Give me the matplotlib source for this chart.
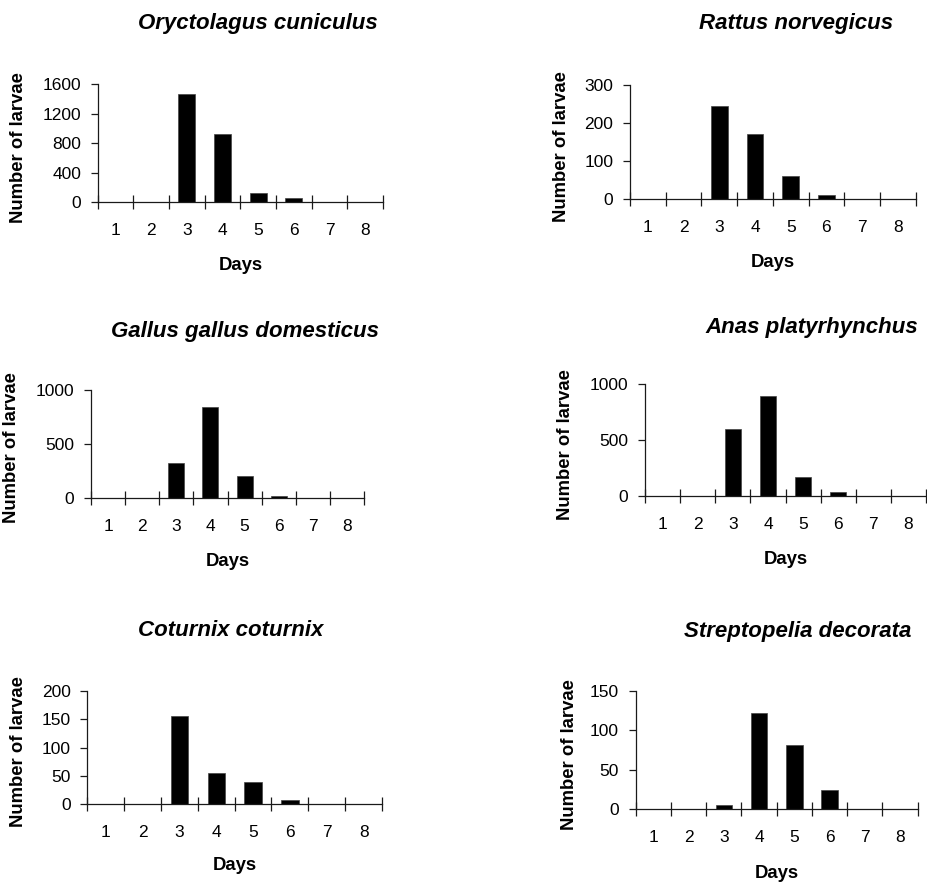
import matplotlib
matplotlib.use("Agg")
import matplotlib.pyplot as plt
import numpy as np

plt.rcParams['font.family'] = ['Liberation Sans', 'DejaVu Sans']

days = [1, 2, 3, 4, 5, 6, 7, 8]
day_labels = ["1", "2", "3", "4", "5", "6", "7", "8"]

species = ["Oryctolagus cuniculus", "Rattus norvegicus",
           "Gallus gallus domesticus", "Anas platyrhynchus",
           "Coturnix coturnix", "Streptopelia decorata"]

oryctolagus = [0, 0, 1470, 930, 130, 60, 0, 0]
rattus = [0, 0, 245, 173, 60, 10, 0, 0]
gallus = [0, 0, 325, 840, 200, 20, 0, 0]
anas = [0, 0, 605, 900, 175, 35, 0, 0]
coturnix = [0, 0, 156, 55, 40, 7, 0, 0]
streptopelia = [0, 0, 5, 122, 82, 25, 0, 0]

series = [oryctolagus, rattus, gallus, anas, coturnix, streptopelia]
yticks = [[0, 400, 800, 1200, 1600], [0, 100, 200, 300], [0, 500, 1000],
          [0, 500, 1000], [0, 50, 100, 150, 200], [0, 50, 100, 150]]

W, H = 927, 882
fig = plt.figure(figsize=(W / 100, H / 100), dpi=100)

# axes boxes in pixels: left, right, y of zero line, y of top tick
boxes = [(97.7, 383, 202.3, 84), (630, 915.7, 199.3, 85.3),
         (91, 364, 497.7, 390.3), (645, 926, 496.3, 384.3),
         (87.3, 382, 804.3, 691), (635.7, 917.7, 809.3, 691)]
titles_pos = [(258, 23), (796, 23), (245, 331), (812, 327), (231, 630), (798, 631)]
ylab_x = [19, 561, 12, 566, 19, 569]
days_y = [265, 263, 561, 560, 865, 873]

def fx(x):
    return x / W

def fy(y):
    return 1 - y / H

lc = '#1a1a1a'
for i in range(6):
    l, r, b, t = boxes[i]
    ax = fig.add_axes([fx(l), fy(b), fx(r) - fx(l), (b - t) / H])
    ax.bar(days, series[i], width=0.47, color='black', edgecolor='#444444', linewidth=0.5)
    ax.set_xlim(0.5, 8.5)
    ax.set_ylim(0, yticks[i][-1])
    for s in ['top', 'right']:
        ax.spines[s].set_visible(False)
    for s in ['left', 'bottom']:
        ax.spines[s].set_color(lc)
        ax.spines[s].set_linewidth(0.9)
    ax.set_yticks(yticks[i])
    ax.set_yticklabels([str(v) for v in yticks[i]], fontsize=12.5)
    ax.tick_params(axis='y', direction='out', length=5, width=0.9, color=lc, pad=7)
    ax.set_xticks(np.arange(0.5, 9.0, 1.0))
    ax.set_xticklabels([])
    ax.set_xticks(days, minor=True)
    ax.set_xticklabels(day_labels, minor=True, fontsize=12.5)
    ax.tick_params(axis='x', which='major', direction='inout', length=10, width=0.9, color=lc)
    ax.tick_params(axis='x', which='minor', length=0, pad=15)

    tx, ty = titles_pos[i]
    fig.text(fx(tx), fy(ty), species[i], ha='center', va='center',
             fontsize=16, fontweight='bold', fontstyle='italic')
    fig.text(fx(ylab_x[i]), fy((b + t) / 2 + 4), "Number of larvae", rotation=90,
             ha='center', va='center', fontsize=13.3, fontweight='bold')
    fig.text(fx((l + r) / 2), fy(days_y[i]), "Days", ha='center', va='center',
             fontsize=13.3, fontweight='bold')

fig.savefig("out.png", dpi=100)
